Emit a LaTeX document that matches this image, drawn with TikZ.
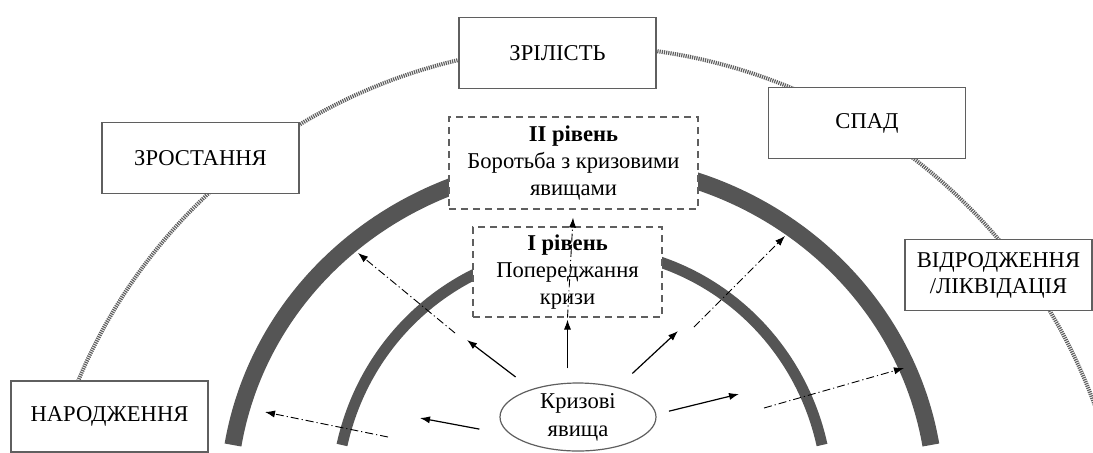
\documentclass[tikz,border=0pt]{standalone}
\usepackage{fontspec}
\setmainfont{Liberation Serif}
\usetikzlibrary{shapes.geometric, arrows.meta, positioning}
\definecolor{arcgray}{RGB}{85,85,85}
\definecolor{boxline}{RGB}{95,95,95}
\definecolor{lifeline}{RGB}{95,95,95}

\begin{document}
\begin{tikzpicture}[x=0.5pt, y=-0.5pt,
    stagebox/.style={draw=boxline, line width=0.7pt, fill=white, minimum width=98.5pt,
                 minimum height=35.5pt, align=center, inner sep=2pt, font=\fontsize{11.3}{13}\selectfont},
    levelbox/.style={draw=boxline, line width=0.6pt, dash pattern=on 3.5pt off 2.5pt, fill=white,
                 align=center, inner sep=2pt, font=\fontsize{11.3}{13.5}\selectfont},
    crisis/.style={ellipse, draw=boxline, line width=0.6pt, fill=white, minimum width=78pt,
                 minimum height=34pt, inner sep=0pt, align=center, font=\fontsize{11.3}{14}\selectfont},
    push/.style={-{Latex[length=5pt, width=3.6pt]}, line width=0.6pt},
    spread/.style={-{Latex[length=5pt, width=3.6pt]}, line width=0.45pt,
                 dash pattern=on 4pt off 1.5pt on 0.6pt off 1.5pt}
]
    \useasboundingbox (0,0) rectangle (1093,452);
    \clip (0,0) rectangle (1093,452);

    % life cycle line
    \draw[lifeline, line width=2pt, dash pattern=on 0.6pt off 0.5pt]
        (54,452) arc[start angle=194.86, end angle=345.14, radius=546];

    % levels
    \draw[arcgray, line width=8.5pt]
        (233,445) arc[start angle=189.4, end angle=350.6, x radius=353.7, y radius=337.4];
    \draw[arcgray, line width=5.5pt]
        (342,445) arc[start angle=192.66, end angle=347.34, x radius=246, y radius=251];

    % stages
    \node[stagebox] (zril) at (557.5,53) {ЗРІЛІСТЬ};
    \node[stagebox] (zrost) at (200.5,158) {ЗРОСТАННЯ};
    \node[stagebox] (spad) at (867,123) {СПАД};
    \node[stagebox, minimum width=93.5pt] (vidr) at (998.5,275) {ВІДРОДЖЕННЯ\\/ЛІКВІДАЦІЯ};
    \node[stagebox] (narod) at (109.5,416.5) {НАРОДЖЕННЯ};

    \node[levelbox, minimum width=124.5pt, minimum height=46pt] (lev2) at (573.5,163)
        {\textbf{II рівень}\\Боротьба з кризовими\\явищами};
    \node[levelbox, minimum width=94.5pt, minimum height=45pt] (lev1) at (567.5,272)
        {\textbf{I рівень}\\Попереджання\\кризи};
    \node[crisis] (kr) at (578,417) {Кризові\\явища};

    % Arrows
    \coordinate (ul) at (467,340);
    \coordinate (lf) at (420,418);
    \coordinate (ur) at (678,331);
    \coordinate (rt) at (739,394);
    \draw[push, shorten <=7pt, shorten >=1pt] (kr.north -| lev1.south) -- (lev1.south);
    \draw[push, shorten <=10pt] (kr.149) -- (ul);
    \draw[push, shorten <=16pt] (kr.195) -- (lf);
    \draw[push, shorten <=10pt] (kr.37) -- (ur);
    \draw[push, shorten <=6.5pt] (kr.2) -- (rt);

    \coordinate (ulA) at (455,333);
    \coordinate (ulB) at (358,253);
    \coordinate (lfA) at (388,437);
    \coordinate (lfB) at (265,412);
    \coordinate (urA) at (694,327);
    \coordinate (urB) at (785,236);
    \coordinate (rtA) at (764,408);
    \coordinate (rtB) at (904,368);
    \draw[spread, shorten >=4pt] (lev1.south) -- (lev2.south);
    \draw[spread] (ulA) -- (ulB);
    \draw[spread] (lfA) -- (lfB);
    \draw[spread] (urA) -- (urB);
    \draw[spread] (rtA) -- (rtB);
\end{tikzpicture}
\end{document}
